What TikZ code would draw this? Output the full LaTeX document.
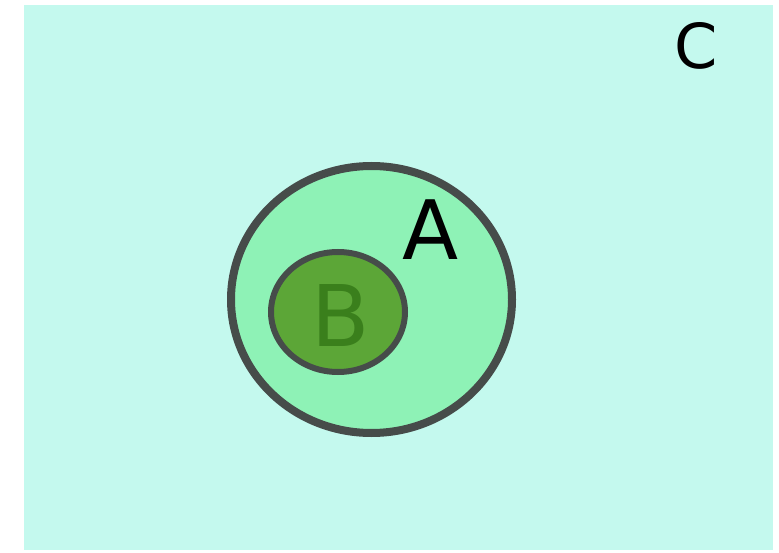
\documentclass[tikz,border=0pt]{standalone}
\usepackage{fontspec}
\setmainfont{DejaVu Sans}
\usepackage{tikz}
\usetikzlibrary{positioning}

\definecolor{bgcyan}{HTML}{C4F9EE}
\definecolor{setA}{HTML}{8EF2B6}
\definecolor{setB}{HTML}{5CA637}
\definecolor{rim}{HTML}{464C4A}
\definecolor{labB}{HTML}{3A7F1C}

\tikzset{
  setlabel/.style={inner sep=0pt,font=\fontsize{82}{82}\selectfont},
  setrim/.style={draw=rim}
}

\begin{document}
\begin{tikzpicture}[x=1pt,y=-1pt]
  \useasboundingbox (0,0) rectangle (779,553);
  \fill[bgcyan] (24,5) rectangle (773,550);
  \draw[setrim,fill=setA,line width=8pt] (371.5,299.5) ellipse [x radius=140.5,y radius=133.5];
  \draw[setrim,fill=setB,line width=6pt] (338,312) ellipse [x radius=67,y radius=60];
  \node[setlabel] (labelA) at (431,230) {A};
  \node[setlabel,text=labB,font=\fontsize{85}{85}\selectfont] (labelB) at (340.5,316) {B};
  \node[setlabel,font=\fontsize{62}{62}\selectfont] (labelC) at (696,45.5) {C};
\end{tikzpicture}
\end{document}
